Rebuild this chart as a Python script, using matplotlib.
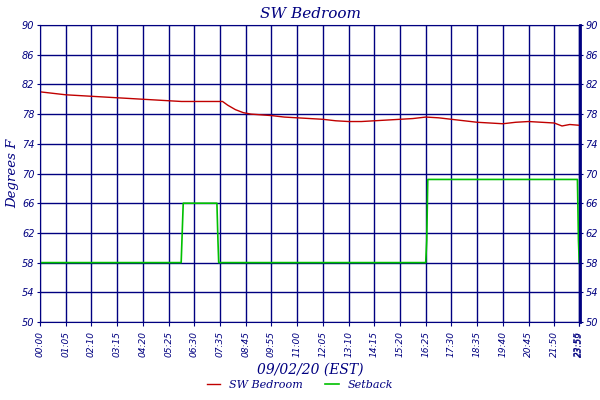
import matplotlib
matplotlib.use("Agg")
import matplotlib.pyplot as plt

tick_labels = ["00:00","01:05","02:10","03:15","04:20","05:25","06:30","07:35","08:45","09:55","11:00","12:05","13:10","14:15","15:20","16:25","17:30","18:35","19:40","20:45","21:50","23:55","23:59"]
tick_pos = list(range(21)) + [20.95, 20.98]
# positions in tick units (1 unit = one tick step)
temp_x = [0, 0.5, 1, 1.5, 2, 2.5, 3, 3.5, 4, 4.5, 5, 5.5, 6, 6.5, 7.1, 7.3, 7.6, 7.9, 8.2, 8.6, 9, 9.5, 10, 10.5, 11, 11.5, 12, 12.5, 13, 13.5, 14, 14.5, 15, 15.5, 16, 16.5, 17, 17.5, 18, 18.5, 19, 19.5, 20, 20.3, 20.6, 20.95]
temp_y = [81.0, 80.8, 80.6, 80.5, 80.4, 80.3, 80.2, 80.1, 80.0, 79.9, 79.8, 79.7, 79.7, 79.7, 79.7, 79.2, 78.6, 78.2, 78.0, 77.9, 77.8, 77.6, 77.5, 77.4, 77.3, 77.1, 77.0, 77.0, 77.1, 77.2, 77.3, 77.4, 77.6, 77.5, 77.3, 77.1, 76.9, 76.8, 76.7, 76.9, 77.0, 76.9, 76.8, 76.4, 76.6, 76.5]
set_x = [0, 5.49, 5.52, 5.57, 6.88, 6.92, 6.95, 15.0, 15.04, 15.08, 20.9, 20.94, 20.97]
set_y = [58, 58, 61, 66, 66, 61, 58, 58, 61, 69.2, 69.2, 61, 58]

navy = "#000080"
fig = plt.figure(figsize=(6, 4), dpi=100)
ax = fig.add_axes([40/600, 1-322/400, 540/600, 297/400])
ax.plot(temp_x, temp_y, color="#c00000", lw=1, label="SW Bedroom")
ax.plot(set_x, set_y, color="#00c000", lw=1.2, label="Setback")
ax.set_xlim(0, 21.0)
ax.set_ylim(50, 90)
ax.set_yticks(range(50, 91, 4))
ax.set_xticks(tick_pos)
ax.set_xticklabels(tick_labels, rotation=90, fontsize=6.5, color=navy, style="italic")
ax.tick_params(axis="y", labelsize=7, colors=navy, labelright=True, right=True, length=2, pad=2)
for l in ax.get_yticklabels() + ax.get_yticklabels(which="major"):
    l.set_style("italic")
for l in ax.yaxis.get_ticklabels():
    l.set_style("italic")
ax.tick_params(axis="x", colors=navy, length=3)
ax.grid(True, color=navy, lw=1)
for s in ax.spines.values():
    s.set_color(navy)
ax.spines["right"].set_linewidth(2)
ax.set_title("SW Bedroom", color=navy, style="italic", fontsize=11, pad=5, family="DejaVu Serif")
ax.set_ylabel("Degrees F", color=navy, style="italic", fontsize=9.5, family="DejaVu Serif", labelpad=2)
ax.set_xlabel("09/02/20 (EST)", color=navy, style="italic", fontsize=10, family="DejaVu Serif", labelpad=4)
leg = fig.legend(loc="lower center", ncol=2, frameon=False, fontsize=8, handlelength=1.2,
           bbox_to_anchor=(0.5, 0.0), labelcolor=navy, prop={"family": "DejaVu Serif", "style": "italic", "size": 8})
fig.savefig("out.png", dpi=100)
